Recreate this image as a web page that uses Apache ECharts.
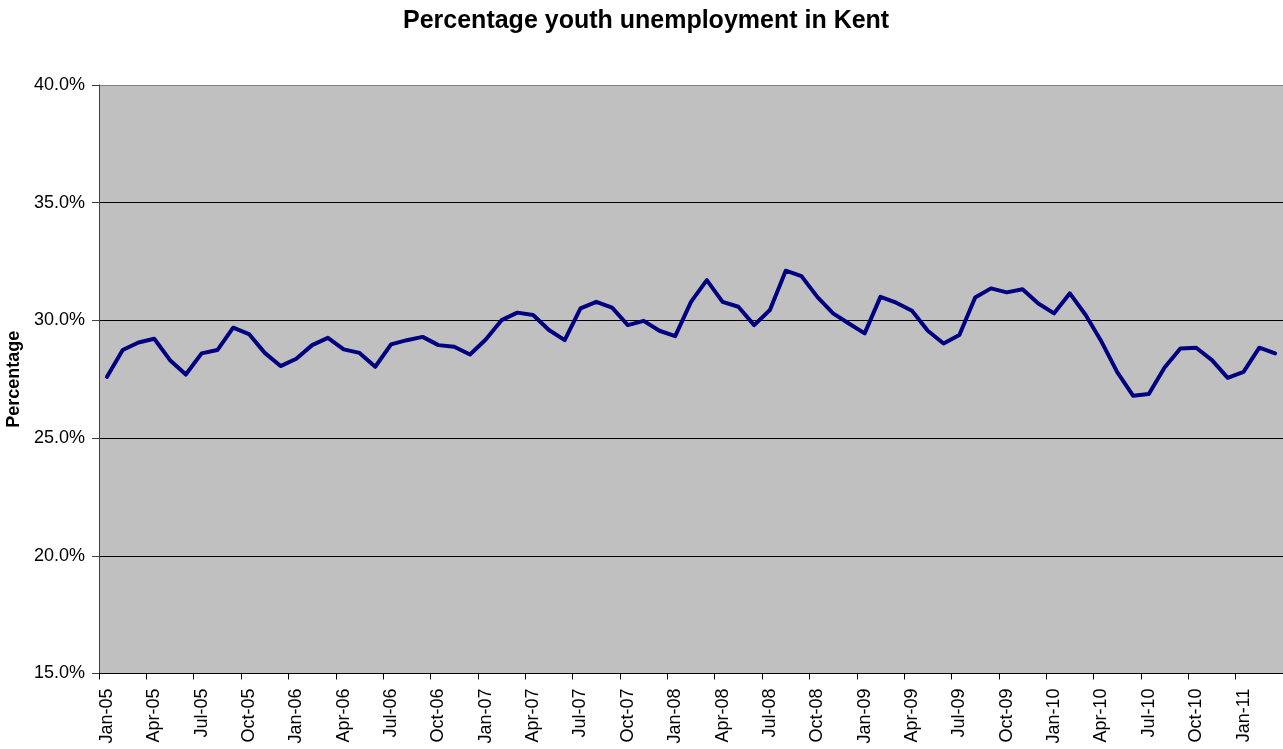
<!DOCTYPE html>
<html>
<head>
<meta charset="utf-8">
<title>Percentage youth unemployment in Kent</title>
<script src="https://cdn.jsdelivr.net/npm/echarts@6/dist/echarts.min.js"></script>
<style>
  html, body { margin: 0; padding: 0; background: #ffffff; }
  #chart { width: 1283px; height: 749px; }
</style>
</head>
<body>
<div id="chart"></div>
<script>
// Monthly categories, Jan 2005 to Mar 2011
const months = [
  'Jan-05','Feb-05','Mar-05','Apr-05','May-05','Jun-05','Jul-05','Aug-05','Sep-05','Oct-05','Nov-05','Dec-05',
  'Jan-06','Feb-06','Mar-06','Apr-06','May-06','Jun-06','Jul-06','Aug-06','Sep-06','Oct-06','Nov-06','Dec-06',
  'Jan-07','Feb-07','Mar-07','Apr-07','May-07','Jun-07','Jul-07','Aug-07','Sep-07','Oct-07','Nov-07','Dec-07',
  'Jan-08','Feb-08','Mar-08','Apr-08','May-08','Jun-08','Jul-08','Aug-08','Sep-08','Oct-08','Nov-08','Dec-08',
  'Jan-09','Feb-09','Mar-09','Apr-09','May-09','Jun-09','Jul-09','Aug-09','Sep-09','Oct-09','Nov-09','Dec-09',
  'Jan-10','Feb-10','Mar-10','Apr-10','May-10','Jun-10','Jul-10','Aug-10','Sep-10','Oct-10','Nov-10','Dec-10',
  'Jan-11','Feb-11','Mar-11'
];

// Youth unemployment rate, percent
const youthUnemployment = [
  27.60, 28.74, 29.06, 29.22, 28.31, 27.70, 28.60, 28.74, 29.69, 29.42, 28.62, 28.06,
  28.37, 28.95, 29.26, 28.77, 28.62, 28.03, 28.98, 29.16, 29.30, 28.95, 28.88, 28.55,
  29.19, 30.01, 30.33, 30.23, 29.59, 29.16, 30.51, 30.79, 30.54, 29.80, 29.98, 29.56,
  29.33, 30.79, 31.71, 30.79, 30.58, 29.80, 30.44, 32.11, 31.88, 31.00, 30.30, 29.87,
  29.45, 31.00, 30.75, 30.41, 29.56, 29.02, 29.38, 30.97, 31.36, 31.19, 31.32, 30.72,
  30.30, 31.15, 30.23, 29.10, 27.80, 26.80, 26.87, 28.00, 28.81, 28.84, 28.31, 27.56,
  27.81, 28.84, 28.60
];

// Value axis range and step, percent
const yMin = 15;
const yMax = 40;
const yStep = 5;

const chart = echarts.init(document.getElementById('chart'), null, { renderer: 'canvas' });

chart.setOption({
  animation: false,
  backgroundColor: '#ffffff',
  title: {
    text: 'Percentage youth unemployment in Kent',
    left: 403,
    top: 4,
    padding: [5, 0, 5, 0],
    textStyle: {
      fontFamily: 'Liberation Sans, Arial, sans-serif',
      fontSize: 25,
      fontWeight: 'bold',
      color: '#000000'
    }
  },
  grid: {
    left: 99,
    right: 0,
    top: 85,
    bottom: 75.5,
    containLabel: false,
    outerBoundsMode: 'none',
    show: true,
    backgroundColor: '#c0c0c0',
    borderWidth: 0
  },
  xAxis: {
    type: 'category',
    data: months,
    boundaryGap: true,
    axisLine: { show: true, lineStyle: { color: '#000000', width: 1 } },
    axisTick: {
      show: true,
      interval: 2,
      alignWithLabel: false,
      length: 6,
      lineStyle: { color: '#000000', width: 1 }
    },
    axisLabel: {
      interval: 2,
      rotate: 90,
      margin: 15,
      fontFamily: 'Liberation Sans, Arial, sans-serif',
      fontSize: 18,
      color: '#000000'
    },
    splitLine: { show: false }
  },
  yAxis: {
    type: 'value',
    min: yMin,
    max: yMax,
    interval: yStep,
    name: 'Percentage',
    nameLocation: 'middle',
    nameGap: 73,
    nameRotate: 90,
    nameTextStyle: {
      fontFamily: 'Liberation Sans, Arial, sans-serif',
      fontSize: 18,
      fontWeight: 'bold',
      color: '#000000'
    },
    axisLine: { show: true, lineStyle: { color: '#404040', width: 1 } },
    axisTick: { show: true, length: 7, lineStyle: { color: '#404040', width: 1 } },
    axisLabel: {
      margin: 14,
      fontFamily: 'Liberation Sans, Arial, sans-serif',
      fontSize: 18,
      color: '#000000',
      formatter: function (v) { return v.toFixed(1) + '%'; }
    },
    splitLine: {
      show: true,
      lineStyle: {
        color: ['#000000', '#000000', '#000000', '#000000', '#000000', '#808080'],
        width: 1
      }
    }
  },
  series: [{
    type: 'line',
    data: youthUnemployment,
    symbol: 'none',
    smooth: false,
    lineStyle: { color: '#000080', width: 4, join: 'round', cap: 'round' },
    itemStyle: { color: '#000080' }
  }]
});
</script>
</body>
</html>
